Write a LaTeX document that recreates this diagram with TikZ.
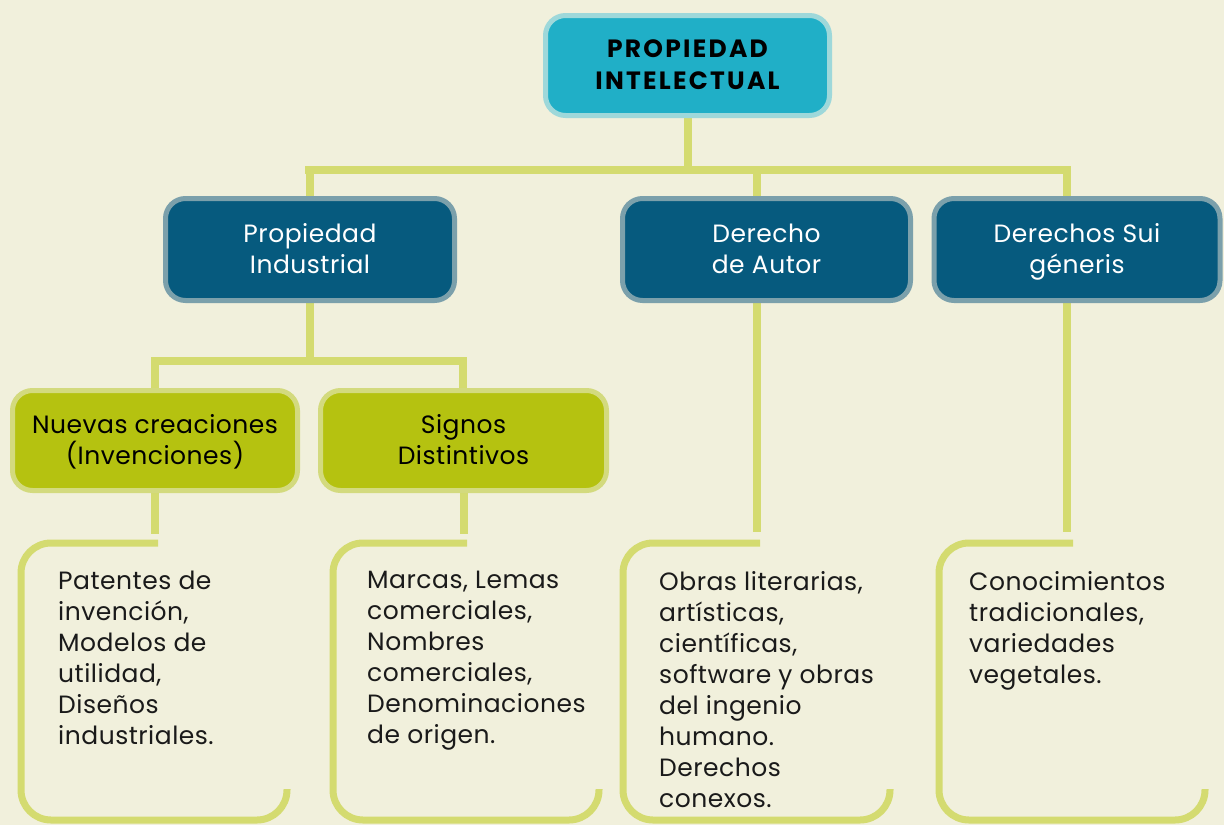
\documentclass[tikz,border=0pt]{standalone}
\usepackage{fontspec}
\setmainfont{Poppins}[LetterSpace=2]
\definecolor{bgc}{HTML}{F1F0DC}
\definecolor{topfill}{HTML}{20AFC7}
\definecolor{topborder}{HTML}{9ED8DA}
\definecolor{darkfill}{HTML}{065A7E}
\definecolor{darkborder}{HTML}{7BA0AB}
\definecolor{greenfill}{HTML}{B5C210}
\definecolor{greenborder}{HTML}{D3DA7E}
\definecolor{linec}{HTML}{D4DB70}
\definecolor{textc}{HTML}{1A1A1A}
\newcommand\bxstrut{\rule[-7.3pt]{0pt}{31pt}}
\newcommand\nolskip{\lineskiplimit -50pt\relax}
\pgfdeclarelayer{bgl}
\pgfdeclarelayer{lines}
\pgfsetlayers{bgl,lines,main}
\tikzset{
  boxbase/.style={rounded corners=20pt, line width=5pt, inner sep=0pt, align=center,
    font={\fontsize{25}{31}\selectfont\nolskip}},
  topbox/.style={boxbase, fill=topfill, draw=topborder, minimum width=284pt, minimum height=100pt,
    font={\fontsize{25}{32}\selectfont\nolskip\bfseries\addfontfeature{LetterSpace=9}}, text=black},
  darkbox/.style={boxbase, fill=darkfill, draw=darkborder, minimum height=102pt, text=white},
  greenbox/.style={boxbase, fill=greenfill, draw=greenborder, minimum height=100pt, text=black},
  conn/.style={draw=linec, line width=8pt},
  bracket/.style={draw=linec, line width=7pt, rounded corners=30pt},
  itemtext/.style={anchor=north west, inner sep=0pt, align=left, text=textc,
    font=\fontsize{25}{31}\selectfont}
}
\begin{document}
\begin{tikzpicture}[x=1pt,y=-1pt]
\begin{pgfonlayer}{bgl}
\fill[bgc] (0,0) rectangle (1224,825);
\end{pgfonlayer}
\useasboundingbox (0,0) rectangle (1224,825);

% nodes
\node[topbox] (pi) at (687.5,65.5) {\bxstrut PROPIEDAD\\\bxstrut INTELECTUAL};
\node[darkbox, minimum width=289pt] (pind) at (310,249.5) {\bxstrut Propiedad\\\bxstrut Industrial};
\node[darkbox, minimum width=288pt] (da) at (766.5,249.5) {\bxstrut Derecho\\\bxstrut de Autor};
\node[darkbox, minimum width=286pt] (sui) at (1077,249.5) {\bxstrut Derechos Sui\\\bxstrut géneris};
\node[greenbox, minimum width=285pt] (nc) at (155,440.5) {\bxstrut Nuevas creaciones\\\bxstrut (Invenciones)};
\node[greenbox, minimum width=286pt] (sd) at (463.5,440.5) {\bxstrut Signos\\\bxstrut Distintivos};

% junction coordinates
\coordinate (h1) at (688,170);
\coordinate (h1l) at (305,170);
\coordinate (h1r) at (1071,170);
\coordinate (h2) at (310,361);
\coordinate (h2l) at (151,361);
\coordinate (h2r) at (467,361);
\coordinate (e1) at (155,534);
\coordinate (e2) at (464,534);
\coordinate (e3) at (757,532);
\coordinate (e4) at (1067,532);

\begin{pgfonlayer}{lines}
\draw[conn] (pi.south -| h1) -- (h1);
\draw[conn] (h1l) -- (h1r);
\draw[conn] (310,170) -- (pind.north);
\draw[conn] (757,170) -- (da.north -| 757,0);
\draw[conn] (1067,170) -- (sui.north -| 1067,0);
\draw[conn] (pind.south) -- (h2);
\draw[conn] (h2l) -- (h2r);
\draw[conn] (155,361) -- (nc.north);
\draw[conn] (463,361) -- (sd.north -| 463,0);
\draw[conn] (nc.south) -- (e1);
\draw[conn] (sd.south -| e2) -- (e2);
\draw[conn] (da.south -| e3) -- (e3);
\draw[conn] (sui.south -| e4) -- (e4);

% brackets
\draw[bracket] (158,543) -| (21,820) -| (287,789);
\draw[bracket] (467,543) -| (333,820) -| (599,789);
\draw[bracket] (760,543) -| (623,820) -| (890,789);
\draw[bracket] (1073,543) -| (939,820) -| (1205,789);
\end{pgfonlayer}

\node[itemtext] (t1) at (58,571) {Patentes de\\invención,\\Modelos de\\utilidad,\\Diseños\\industriales.};
\node[itemtext] (t2) at (367,571) {Marcas, Lemas\\comerciales,\\Nombres\\comerciales,\\Denominaciones\\de origen.};
\node[itemtext] (t3) at (659,571) {Obras literarias,\\artísticas,\\científicas,\\software y obras\\del ingenio\\humano.\\Derechos\\conexos.};
\node[itemtext] (t4) at (969,571) {Conocimientos\\tradicionales,\\variedades\\vegetales.};
\end{tikzpicture}
\end{document}
